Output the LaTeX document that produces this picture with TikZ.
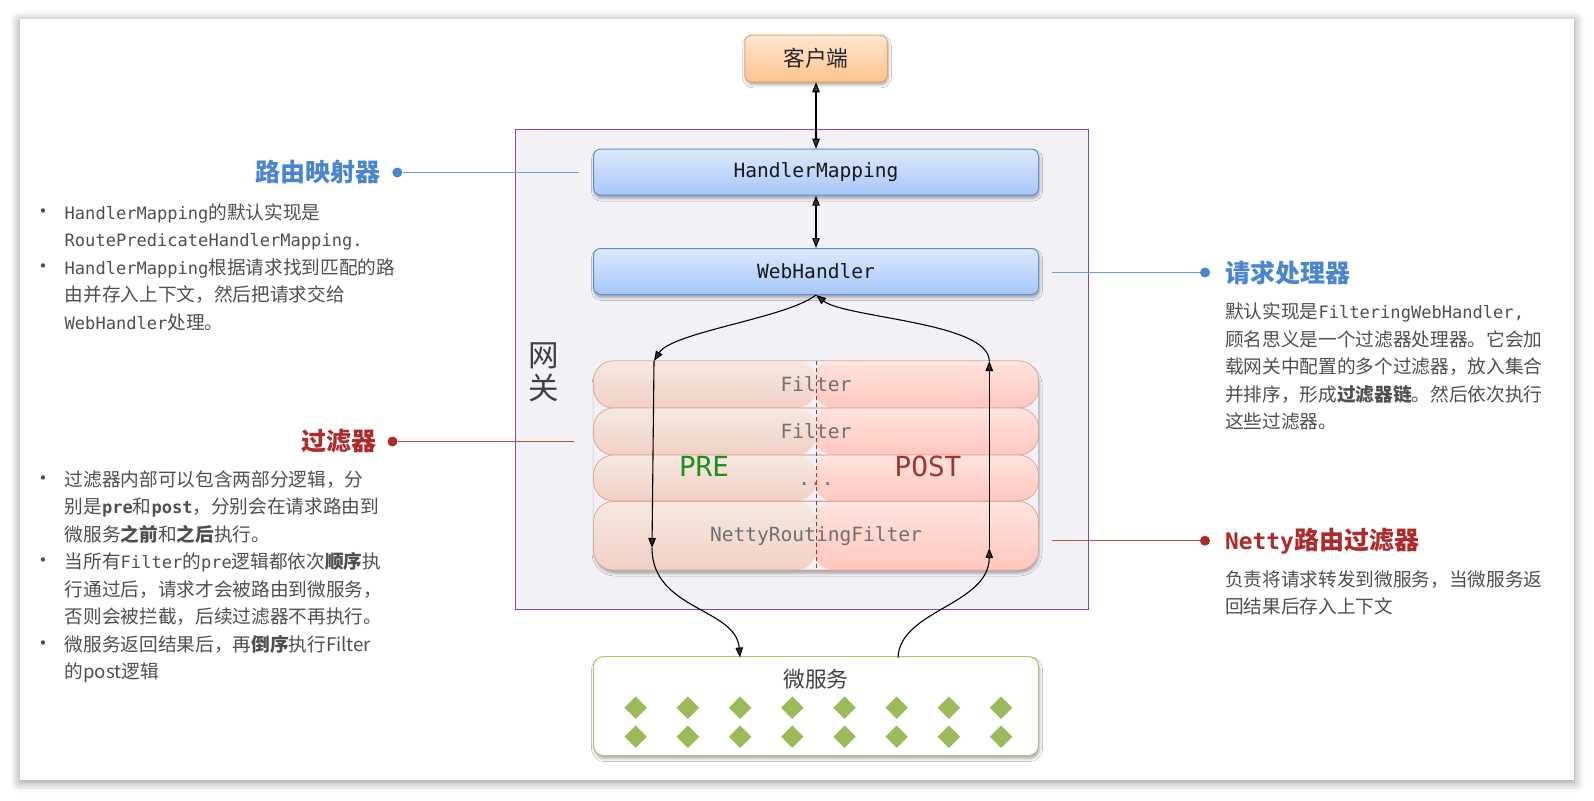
\documentclass[tikz,border=0pt]{standalone}
\usepackage{fontspec}
\setmainfont{Noto Sans CJK SC}
\newfontfamily\mono[Scale=0.914]{DejaVu Sans Mono}
\newfontfamily\bulfont{DejaVu Sans}
\usetikzlibrary{arrows.meta,shadows.blur,shapes.geometric}
\definecolor{txt}{HTML}{4F4F4F}
\definecolor{blueH}{HTML}{4A86D0}
\definecolor{blueL}{HTML}{6F9FDC}
\definecolor{redH}{HTML}{B02A2A}
\definecolor{redL}{HTML}{C44A4A}
\definecolor{gwfill}{HTML}{F2F1F6}
\definecolor{gwdraw}{HTML}{8148C2}
\definecolor{clitop}{HTML}{FFE6D2}
\definecolor{clibot}{HTML}{FFC48F}
\definecolor{clidraw}{HTML}{F3A35F}
\definecolor{bluetop}{HTML}{DDE9FD}
\definecolor{bluebot}{HTML}{A6C6F8}
\definecolor{bluedraw}{HTML}{5C8FD6}
\definecolor{ltop}{HTML}{F5E9E1}
\definecolor{lbot}{HTML}{F1D0C4}
\definecolor{rtop}{HTML}{FFE4DD}
\definecolor{rbot}{HTML}{FFC7BE}
\definecolor{rowdraw}{HTML}{E3A597}
\definecolor{pregreen}{HTML}{1E8E1E}
\definecolor{postred}{HTML}{A33434}
\definecolor{dashred}{HTML}{C02828}
\definecolor{msdraw}{HTML}{A9C873}
\definecolor{dgreen}{HTML}{9BBB59}
\definecolor{rowtxt}{HTML}{707070}
\begin{document}
\begin{tikzpicture}[x=1pt,y=-1pt,
  body/.style={anchor=base west, inner sep=0pt, text=txt, font=\fontsize{18.67}{27.5}\selectfont},
  bul/.style={anchor=center, inner sep=0pt, text=txt, font=\bulfont\fontsize{15}{15}\selectfont},
  head/.style={inner sep=0pt, font=\fontsize{25}{30}\selectfont\bfseries},
  hdot/.style={circle, inner sep=0pt, minimum size=10pt},
  boxshadow/.style={blur shadow={shadow xshift=1pt, shadow yshift=-3pt, shadow blur radius=3pt, shadow opacity=35}},
  bluebox/.style={draw=bluedraw, line width=1pt, rounded corners=7pt, top color=bluetop, bottom color=bluebot,
     minimum width=445pt, minimum height=46pt, inner sep=0pt, boxshadow, font=\mono\fontsize{21.4}{24}\selectfont, text=black!90},
  rowbox/.style={draw=rowdraw, line width=0.8pt, rounded corners=20pt, minimum width=445pt, inner sep=0pt,
     font=\mono\fontsize{21.4}{24}\selectfont, text=rowtxt,
     path picture={
       \shade[top color=rtop, bottom color=rbot] ([xshift=-2pt]path picture bounding box.north) rectangle (path picture bounding box.south east);
       \shade[top color=ltop, bottom color=lbot] (path picture bounding box.north west) rectangle (path picture bounding box.south);
     }},
  arr/.style={line width=1.1pt, -{Triangle[length=10pt,width=7.5pt]}},
  darr/.style={line width=1.1pt, {Triangle[length=10pt,width=7.5pt]}-{Triangle[length=10pt,width=7.5pt]}},
  gem/.style={diamond, fill=dgreen, inner sep=0pt, minimum width=22.6pt, minimum height=22.6pt}
]
\useasboundingbox (0,0) rectangle (1594,800);
% panel
\path[fill=white, blur shadow={shadow xshift=0pt, shadow yshift=-2pt, shadow blur radius=10pt, shadow opacity=45}] (20,19) rectangle (1574,780);

% gateway
\node[draw=gwdraw, fill=gwfill, line width=1pt, minimum width=573pt, minimum height=480.4pt, inner sep=0pt] (gw) at (802,369.5) {};
\node[text=black!75, font=\fontsize{30.5}{33.5}\selectfont, align=center, inner sep=0pt] (gwlabel) at (544,372.5) {网\\关};

% client
\node[draw=clidraw, line width=1pt, rounded corners=7pt, top color=clitop, bottom color=clibot, minimum width=142.5pt, minimum height=46.5pt, inner sep=0pt, boxshadow, font=\fontsize{21.7}{24}\selectfont, text=black!85] (cli) at (816,58.5) {客户端};

\node[bluebox] (hm) at (816,172.2) {HandlerMapping};
\node[bluebox] (wh) at (816,271.5) {WebHandler};

\draw[darr] (cli.south) -- (hm.north);
\draw[darr] (hm.south) -- (wh.north);

% filter rows (one soft shadow under the whole stack)
\path[fill=gwfill, rounded corners=20pt, boxshadow] (594,362) rectangle (1038,570);
\node[rowbox, minimum height=47.3pt] (r1) at (816,384.4) {Filter};
\node[rowbox, minimum height=47pt] (r2) at (816,431.5) {Filter};
\node[rowbox, minimum height=46pt] (r3) at (816,478) {\vphantom{Fi}...};
\node[rowbox, minimum height=68.5pt] (r4) at (816,535.8) {NettyRoutingFilter};
\coordinate (dtop) at (816,361);
\coordinate (dbot) at (816,570);
\draw[dashred, line width=1pt, dash pattern=on 4pt off 3pt] (dtop) -- (dbot);
\node[inner sep=0pt, text=pregreen, font=\mono\fontsize{30.3}{32}\selectfont] (pre) at (704,466.7) {PRE};
\node[inner sep=0pt, text=postred, font=\mono\fontsize{30.3}{32}\selectfont] (post) at (928,466.7) {POST};

% micro services
\node[draw=msdraw, fill=white, line width=1pt, rounded corners=10pt, minimum width=445pt, minimum height=99pt, inner sep=0pt, boxshadow] (ms) at (816,706) {};
\node[inner sep=0pt, text=black!75, font=\fontsize{21.7}{24}\selectfont] (mslabel) at (816,679) {微服务};
\foreach \i in {0,...,7} {
  \node[gem] (ga\i) at ({635.7+52.2*\i},707.7) {};
  \node[gem] (gb\i) at ({635.7+52.2*\i},736.7) {};
}

% flow arrows
\coordinate (lt) at (654,361);
\coordinate (lb) at (652,548);
\coordinate (rt) at (989.3,361);
\coordinate (rb) at (989.3,548);
\coordinate (msin) at (740,657.5);
\coordinate (msout) at (898,657.5);
\draw[arr] (wh.south) .. controls (787,318) and (672,332) .. (lt);
\draw[arr] (lt) -- (lb);
\draw[arr] (lb) .. controls (652,610) and (736,608) .. (msin);
\draw[arr] (msout) .. controls (900,610) and (989,605) .. (rb);
\draw[arr] (rb) -- (rt);
\draw[arr] (rt) .. controls (989,322) and (845,318) .. (wh.south);

% left top annotation
\node[head, text=blueH, anchor=east] (h1) at (381,172.5) {路由映射器};
\node[hdot, fill=blueH] (h1d) at (397.3,172.5) {};
\coordinate (h1e) at (579,172.5);
\draw[blueL, line width=1pt] (h1d) -- (h1e);
\node[bul] (b1) at (43,212.5) {•};
\node[bul] (b2) at (43,267.5) {•};
\node[body] (a1) at (64.5,219.1) {{\mono HandlerMapping}的默认实现是};
\node[body] (a2) at (64.5,246.6) {\mono RoutePredicateHandlerMapping.};
\node[body] (a3) at (64.5,274.1) {{\mono HandlerMapping}根据请求找到匹配的路};
\node[body] (a4) at (64.5,301.6) {由并存入上下文，然后把请求交给};
\node[body] (a5) at (64.5,329.1) {{\mono WebHandler}处理。};

% left filter annotation
\node[head, text=redH, anchor=east] (h3) at (376.5,441.5) {过滤器};
\node[hdot, fill=redH] (h3d) at (392.5,441.5) {};
\coordinate (h3e) at (574,441.5);
\draw[redL, line width=1pt] (h3d) -- (h3e);
\node[bul] (b3) at (43,479.5) {•};
\node[bul] (b4) at (43,562) {•};
\node[bul] (b5) at (43,644.5) {•};
\node[body] (f1) at (64.5,486.1) {过滤器内部可以包含两部分逻辑，分};
\node[body] (f2) at (64.5,513.6) {别是{\mono\bfseries pre}和{\mono\bfseries post}，分别会在请求路由到};
\node[body] (f3) at (64.5,541.1) {微服务\textbf{之前}和\textbf{之后}执行。};
\node[body] (f4) at (64.5,568.6) {当所有{\mono Filter}的{\mono pre}逻辑都依次\textbf{顺序}执};
\node[body] (f5) at (64.5,596.1) {行通过后，请求才会被路由到微服务，};
\node[body] (f6) at (64.5,623.6) {否则会被拦截，后续过滤器不再执行。};
\node[body] (f7) at (64.5,651.1) {微服务返回结果后，再\textbf{倒序}执行Filter};
\node[body] (f8) at (64.5,678.6) {的post逻辑};

% right webhandler annotation
\node[head, text=blueH, anchor=west] (h2) at (1225,272.5) {请求处理器};
\node[hdot, fill=blueH] (h2d) at (1205,272.5) {};
\coordinate (h2s) at (1052,272.5);
\draw[blueL, line width=1pt] (h2s) -- (h2d);
\node[body] (c1) at (1225,318.6) {默认实现是{\mono FilteringWebHandler,}};
\node[body] (c2) at (1225,346.1) {顾名思义是一个过滤器处理器。它会加};
\node[body] (c3) at (1225,373.6) {载网关中配置的多个过滤器，放入集合};
\node[body] (c4) at (1225,401.1) {并排序，形成\textbf{过滤器链}。然后依次执行};
\node[body] (c5) at (1225,428.6) {这些过滤器。};

% right netty annotation
\node[head, text=redH, anchor=west] (h4) at (1225,540.7) {{\mono Netty}路由过滤器};
\node[hdot, fill=redH] (h4d) at (1205,540.7) {};
\coordinate (h4s) at (1052,540.7);
\draw[redL, line width=1pt] (h4s) -- (h4d);
\node[body] (n1) at (1225,586.1) {负责将请求转发到微服务，当微服务返};
\node[body] (n2) at (1225,613.6) {回结果后存入上下文};
\end{tikzpicture}
\end{document}
